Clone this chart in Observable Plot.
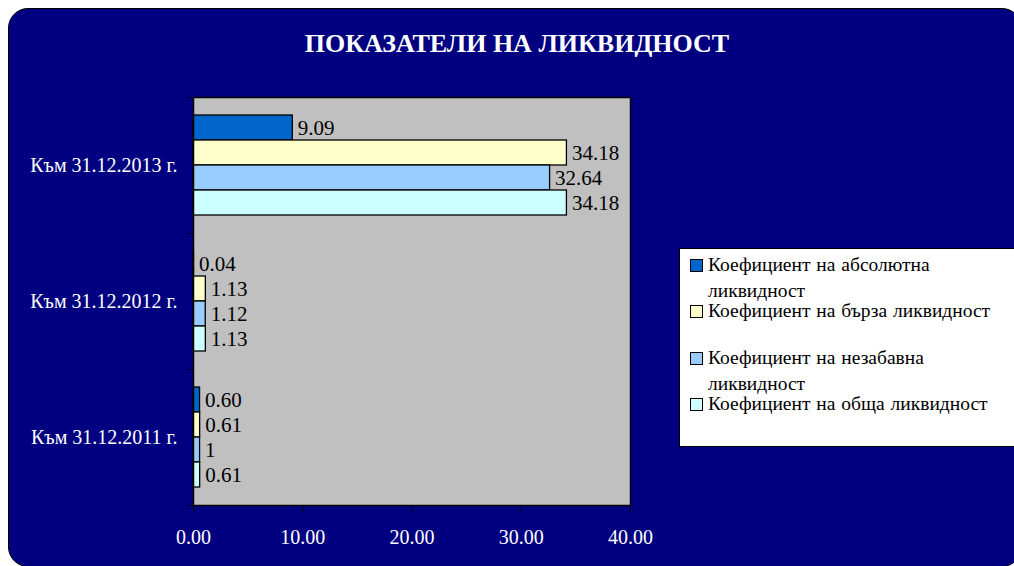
<!DOCTYPE html>
<html>
<head>
<meta charset="utf-8">
<script src="https://cdn.jsdelivr.net/npm/d3@7"></script>
<script src="https://cdn.jsdelivr.net/npm/@observablehq/plot@0.6"></script>
<style>
  html, body { margin: 0; padding: 0; overflow: hidden; background: #ffffff; }
  #page { position: relative; width: 1014px; height: 566px; overflow: hidden; font-family: "Liberation Serif", "Times New Roman", serif; }
  #bg { position: absolute; left: 8px; top: 8px; width: 1014px; height: 559px; background: #000080; border: 1.5px solid #000; border-radius: 20px; box-sizing: border-box; }
  #title { position: absolute; left: 0; top: 28px; width: 1034px; text-align: center; color: #fff; font-weight: bold; font-size: 26px; line-height: 32px; white-space: nowrap; }
  #chart { position: absolute; left: 0; top: 0; }
  #legend { position: absolute; left: 679px; top: 248px; width: 400px; height: 199px; background: #fff; border: 1px solid #000; box-sizing: border-box; }
  .item { position: absolute; left: 10px; font-size: 19.5px; line-height: 26px; color: #000; white-space: nowrap; }
  .swatch { position: absolute; left: 0; top: 7px; width: 11px; height: 11px; border: 1px solid #000; }
  .txt { position: absolute; left: 18px; top: 0; word-spacing: 1px; }
</style>
</head>
<body>
<div id="page">
  <div id="bg"></div>
  <div id="title"></div>
  <div id="chart"></div>
  <div id="legend"></div>
</div>
<script>
const titleText = "ПОКАЗАТЕЛИ НА ЛИКВИДНОСТ";
const categories = ["Към 31.12.2013 г.", "Към 31.12.2012 г.", "Към 31.12.2011 г."];
const seriesNames = [
  "Коефициент на абсолютна ликвидност",
  "Коефициент на бърза ликвидност",
  "Коефициент на незабавна ликвидност",
  "Коефициент на обща ликвидност"
];
const legendLines = [
  ["Коефициент на абсолютна", "ликвидност"],
  ["Коефициент на бърза ликвидност"],
  ["Коефициент на незабавна", "ликвидност"],
  ["Коефициент на обща ликвидност"]
];
const absoluteValues  = [9.09, 0.04, 0.60];
const quickValues     = [34.18, 1.13, 0.61];
const immediateValues = [32.64, 1.12, 0.60];
const totalValues     = [34.18, 1.13, 0.61];
const absoluteLabels  = ["9.09", "0.04", "0.60"];
const quickLabels     = ["34.18", "1.13", "0.61"];
const immediateLabels = ["32.64", "1.12", "1"];
const totalLabels     = ["34.18", "1.13", "0.61"];
const seriesColors = ["#0066CC", "#FFFFCC", "#99CCFF", "#CCFFFF"];
const xTicks = [0, 10, 20, 30, 40];

document.getElementById("title").textContent = titleText;

const allValues = [absoluteValues, quickValues, immediateValues, totalValues];
const allLabels = [absoluteLabels, quickLabels, immediateLabels, totalLabels];
const seriesData = allValues.map((vals, i) =>
  categories.map((c, j) => ({cat: c, series: seriesNames[i], value: vals[j], label: allLabels[i][j]}))
);

const bandH = 136, barH = 25, pad = (bandH - 4 * barH) / 2;
const marks = [Plot.frame({fill: "#C0C0C0", stroke: "none"})];
seriesData.forEach((d, i) => {
  marks.push(Plot.barX(d, {
    x: "value", y: "cat", fill: seriesColors[i], stroke: "#000", strokeWidth: 1.3,
    insetTop: pad + barH * i, insetBottom: bandH - pad - barH * (i + 1)
  }));
  marks.push(Plot.text(d, {
    x: "value", y: "cat", text: "label", textAnchor: "start", dx: 5,
    dy: -bandH / 2 + pad + barH * i + barH / 2, fontSize: 21, fill: "#000"
  }));
});
marks.push(Plot.frame({stroke: "#000", strokeWidth: 1.5}));
marks.push(Plot.axisX({ticks: xTicks, tickSize: 7, tickPadding: 17, tickFormat: d => d.toFixed(2), fontSize: 20, stroke: "#000", fill: "#fff", label: null}));
marks.push(Plot.axisY({tickSize: 0, tickPadding: 16, fontSize: 20, fill: "#fff", label: null}));
marks.push(Plot.axisY({tickSize: 6, text: null, dy: -bandH / 2, stroke: "#000", label: null}));
marks.push(Plot.axisY({tickSize: 6, text: null, dy: bandH / 2, stroke: "#000", label: null}));

const chart = Plot.plot({
  width: 1014,
  height: 566,
  marginLeft: 193,
  marginRight: 384,
  marginTop: 97,
  marginBottom: 61,
  style: {background: "transparent", fontFamily: "'Liberation Serif', 'Times New Roman', serif", color: "#fff"},
  x: {domain: [0, 40]},
  y: {domain: categories, padding: 0},
  marks
});
document.getElementById("chart").appendChild(chart);

const legend = document.getElementById("legend");
const itemTops = [3, 49, 96, 142];
legendLines.forEach((lines, i) => {
  const item = document.createElement("div");
  item.className = "item";
  item.style.top = itemTops[i] + "px";
  const sw = document.createElement("div");
  sw.className = "swatch";
  sw.style.background = seriesColors[i];
  const t = document.createElement("div");
  t.className = "txt";
  t.innerHTML = lines.join("<br>");
  item.appendChild(sw);
  item.appendChild(t);
  legend.appendChild(item);
});
</script>
</body>
</html>
